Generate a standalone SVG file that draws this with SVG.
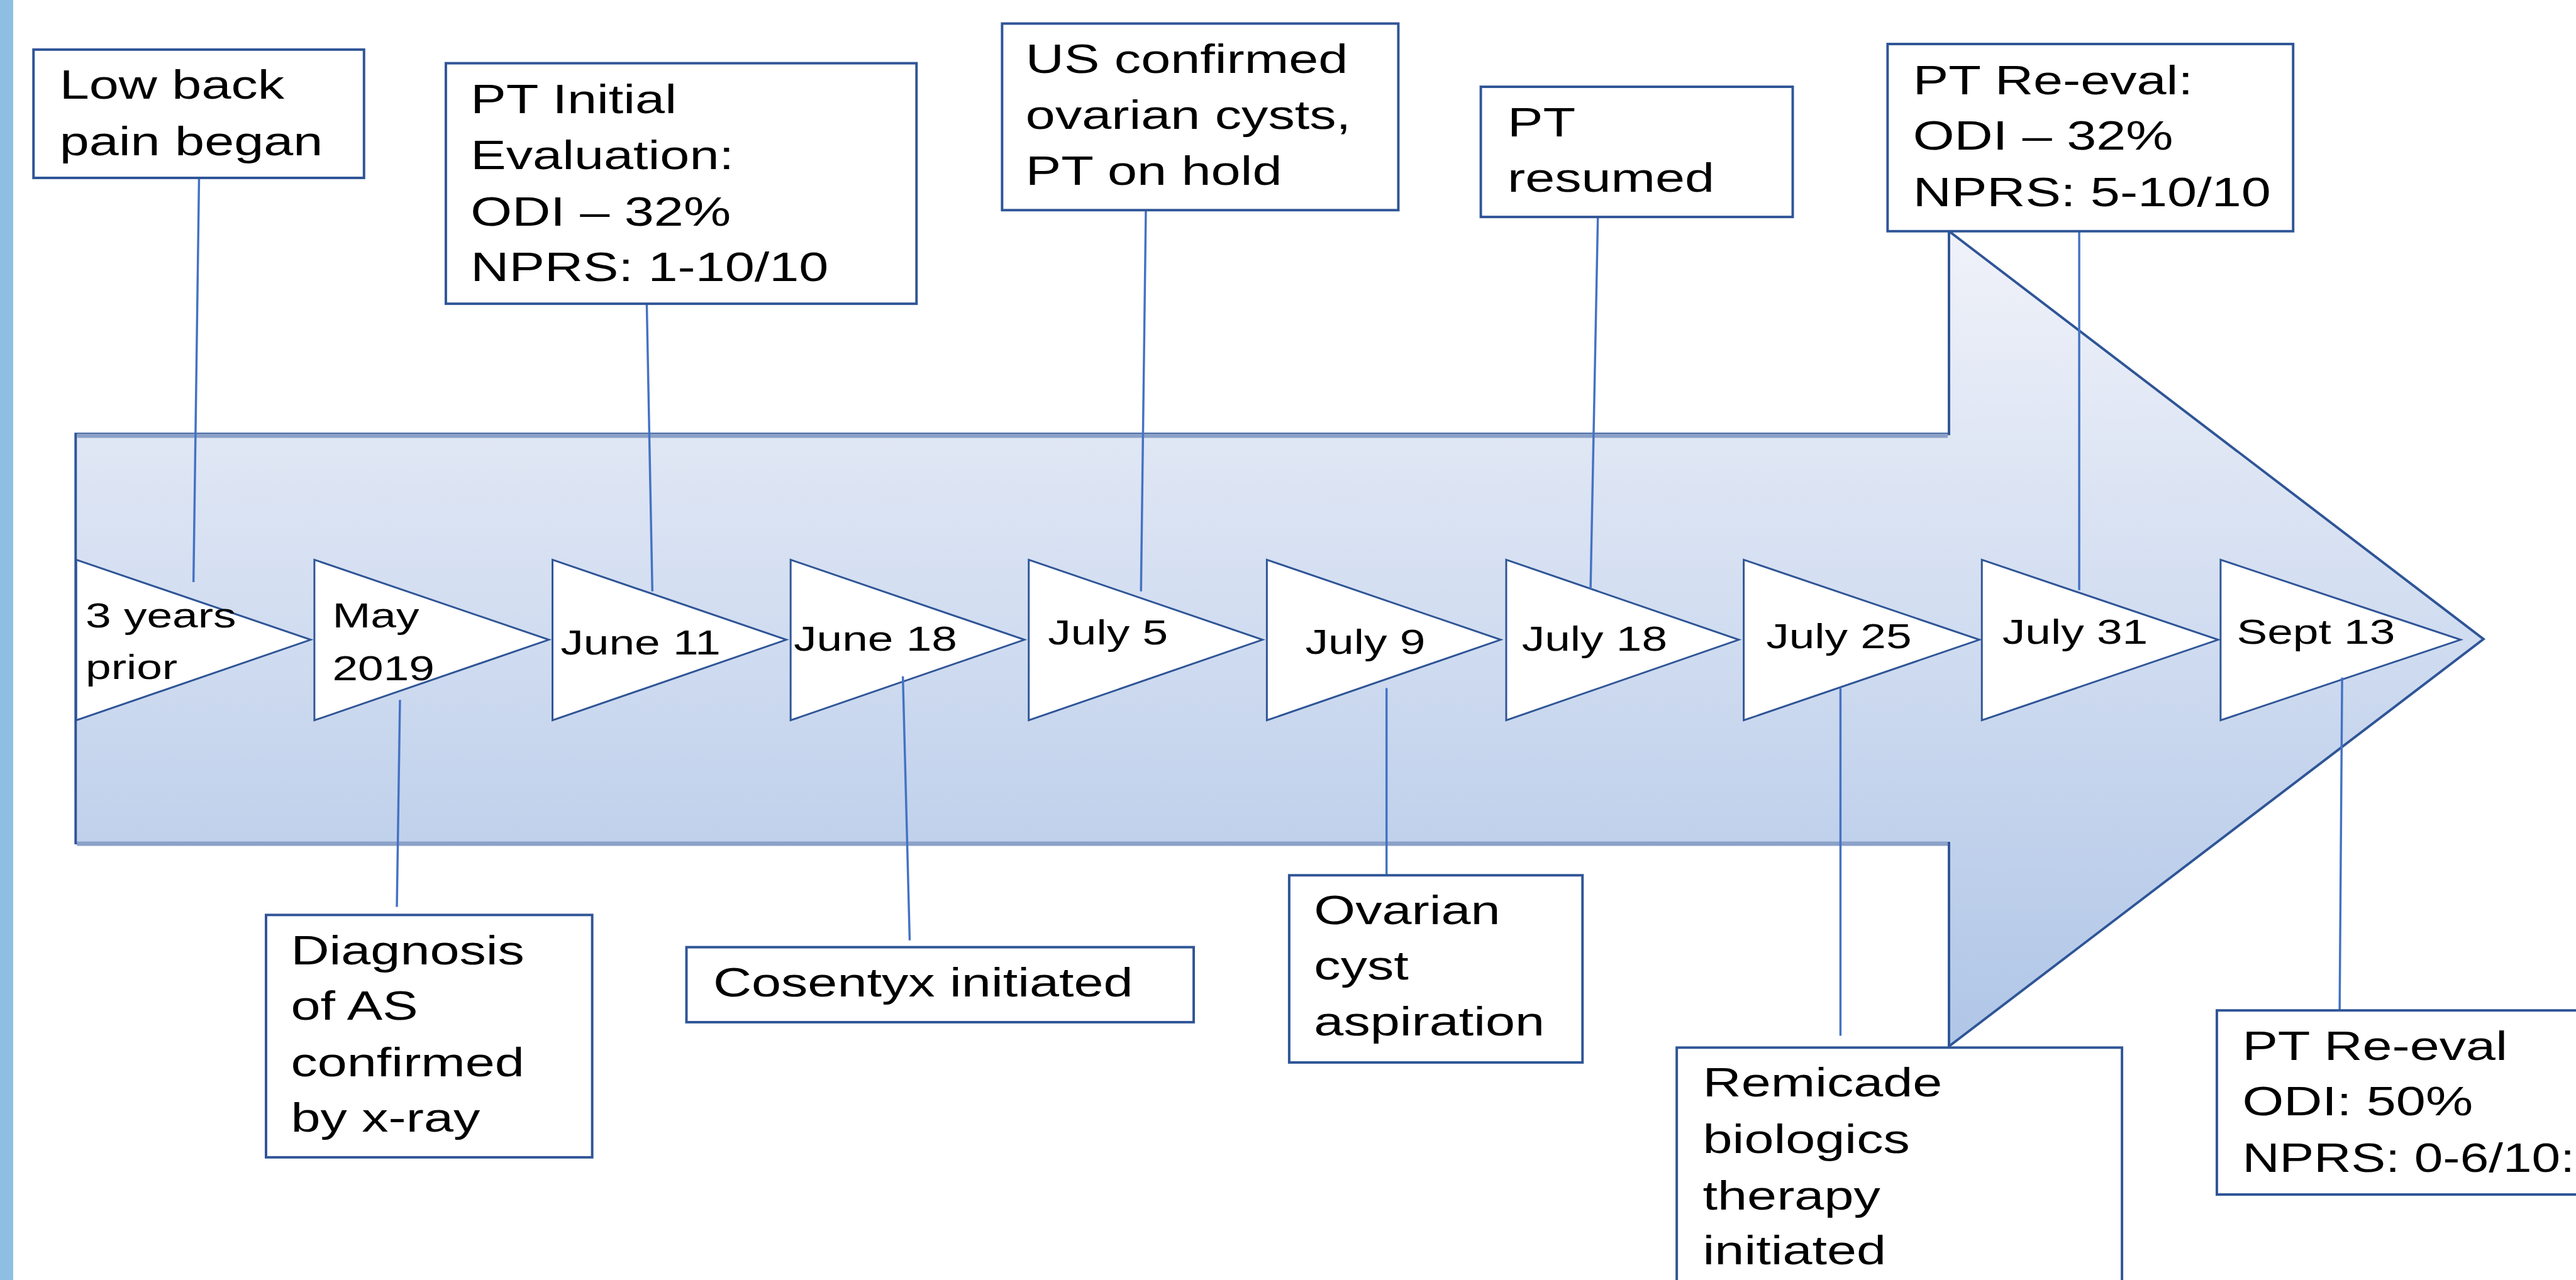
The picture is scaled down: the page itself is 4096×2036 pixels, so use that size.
<svg xmlns="http://www.w3.org/2000/svg" width="4096" height="2036" viewBox="0 0 4096 2036">
<defs>
<linearGradient id="arrowGrad" x1="0" y1="373" x2="0" y2="1688" gradientUnits="userSpaceOnUse">
<stop offset="0" stop-color="#F0F2F9"/>
<stop offset="1" stop-color="#B0C6E7"/>
</linearGradient>
<style>
.box{fill:#FFFFFF;stroke:#2F5597;stroke-width:4}
.tri{fill:#FFFFFF;stroke:#2F5597;stroke-width:3;stroke-linejoin:miter}
.conn{fill:none;stroke:#4472C4;stroke-width:3.5}
.t{font-family:"Liberation Sans",Arial,sans-serif;font-size:66px;fill:#000000}
.d{font-size:57px}
.edge{stroke:#8BA1C8;stroke-width:7;fill:none}
</style>
</defs>
<rect x="0" y="0" width="4096" height="2036" fill="#FFFFFF"/>
<rect id="sidebar" x="0" y="0" width="21" height="2036" fill="#8EBFE2"/>
<g transform="scale(0.986)">
<g id="timeline-arrow">
<polygon points="122,700 3143,700 3143,373 4005,1031 3143,1688 3143,1360 122,1360" fill="url(#arrowGrad)" stroke="#2F5597" stroke-width="4"/>
<line class="edge" x1="124" y1="703" x2="3141" y2="703"/>
<line class="edge" x1="124" y1="1361" x2="3141" y2="1361"/>
</g>
<g id="dates">
<g id="d1"><polygon class="tri" points="123,903 501,1032 123,1162"/><text class="t d" transform="translate(138,1012) scale(1.3,1)"><tspan x="0" y="0">3 years</tspan><tspan x="0" y="83">prior</tspan></text></g>
<g id="d2"><polygon class="tri" points="507,903 885,1032 507,1162"/><text class="t d" transform="translate(536,1012) scale(1.3,1)"><tspan x="0" y="0">May</tspan><tspan x="0" y="85">2019</tspan></text></g>
<g id="d3"><polygon class="tri" points="891,903 1268,1032 891,1162"/><text class="t d" transform="translate(904,1056) scale(1.3,1)">June 11</text></g>
<g id="d4"><polygon class="tri" points="1275,903 1652,1032 1275,1162"/><text class="t d" transform="translate(1280,1050) scale(1.3,1)">June 18</text></g>
<g id="d5"><polygon class="tri" points="1659,903 2036,1032 1659,1162"/><text class="t d" transform="translate(1690,1040) scale(1.3,1)">July 5</text></g>
<g id="d6"><polygon class="tri" points="2043,903 2420,1032 2043,1162"/><text class="t d" transform="translate(2105,1055) scale(1.3,1)">July 9</text></g>
<g id="d7"><polygon class="tri" points="2429,903 2804,1032 2429,1162"/><text class="t d" transform="translate(2454,1050) scale(1.3,1)">July 18</text></g>
<g id="d8"><polygon class="tri" points="2812,903 3192,1032 2812,1162"/><text class="t d" transform="translate(2848,1046) scale(1.3,1)">July 25</text></g>
<g id="d9"><polygon class="tri" points="3196,903 3577,1032 3196,1162"/><text class="t d" transform="translate(3229,1039) scale(1.3,1)">July 31</text></g>
<g id="d10"><polygon class="tri" points="3581,903 3968,1032 3581,1162"/><text class="t d" transform="translate(3607,1039) scale(1.3,1)">Sept 13</text></g>
</g>
<g id="connectors">
<line class="conn" x1="321" y1="287" x2="312" y2="939"/>
<line class="conn" x1="1043" y1="490" x2="1052" y2="954"/>
<line class="conn" x1="1848" y1="328" x2="1840" y2="954"/>
<line class="conn" x1="2577" y1="339" x2="2565" y2="950"/>
<line class="conn" x1="3353" y1="373" x2="3353" y2="952"/>
<line class="conn" x1="645" y1="1129" x2="640" y2="1463"/>
<line class="conn" x1="1456" y1="1091" x2="1467" y2="1517"/>
<line class="conn" x1="2236" y1="1110" x2="2236" y2="1412"/>
<line class="conn" x1="2968" y1="1110" x2="2968" y2="1671"/>
<line class="conn" x1="3777" y1="1093" x2="3773" y2="1629"/>
</g>
<g id="events">
<g id="e1"><rect class="box" x="54" y="80" width="533" height="207"/><text class="t" transform="translate(96,159) scale(1.3,1)"><tspan x="0" y="0">Low back</tspan><tspan x="0" y="92">pain began</tspan></text></g>
<g id="e2"><rect class="box" x="719" y="102" width="759" height="388"/><text class="t" transform="translate(759,183) scale(1.3,1)"><tspan x="0" y="0">PT Initial</tspan><tspan x="0" y="90">Evaluation:</tspan><tspan x="0" y="181">ODI – 32%</tspan><tspan x="0" y="270">NPRS: 1-10/10</tspan></text></g>
<g id="e3"><rect class="box" x="1616" y="38" width="639" height="301"/><text class="t" transform="translate(1654,118) scale(1.3,1)"><tspan x="0" y="0">US confirmed</tspan><tspan x="0" y="90">ovarian cysts,</tspan><tspan x="0" y="180">PT on hold</tspan></text></g>
<g id="e4"><rect class="box" x="2388" y="140" width="503" height="210"/><text class="t" transform="translate(2431,220) scale(1.3,1)"><tspan x="0" y="0">PT</tspan><tspan x="0" y="89">resumed</tspan></text></g>
<g id="e5"><rect class="box" x="3044" y="71" width="654" height="302"/><text class="t" transform="translate(3085,152) scale(1.3,1)"><tspan x="0" y="0">PT Re-eval:</tspan><tspan x="0" y="89">ODI – 32%</tspan><tspan x="0" y="181">NPRS: 5-10/10</tspan></text></g>
<g id="e6"><rect class="box" x="429" y="1476" width="526" height="391"/><text class="t" transform="translate(469,1556) scale(1.3,1)"><tspan x="0" y="0">Diagnosis</tspan><tspan x="0" y="89">of AS</tspan><tspan x="0" y="180">confirmed</tspan><tspan x="0" y="270">by x-ray</tspan></text></g>
<g id="e7"><rect class="box" x="1107" y="1528" width="818" height="121"/><text class="t" transform="translate(1150,1608) scale(1.3,1)">Cosentyx initiated</text></g>
<g id="e8"><rect class="box" x="2079" y="1412" width="473" height="302"/><text class="t" transform="translate(2119,1491) scale(1.3,1)"><tspan x="0" y="0">Ovarian</tspan><tspan x="0" y="89">cyst</tspan><tspan x="0" y="179">aspiration</tspan></text></g>
<g id="e9"><rect class="box" x="2704" y="1690" width="718" height="420"/><text class="t" transform="translate(2746,1769) scale(1.3,1)"><tspan x="0" y="0">Remicade</tspan><tspan x="0" y="91">biologics</tspan><tspan x="0" y="182">therapy</tspan><tspan x="0" y="271">initiated</tspan></text></g>
<g id="e10"><rect class="box" x="3575" y="1630" width="640" height="297"/><text class="t" transform="translate(3616,1710) scale(1.3,1)"><tspan x="0" y="0">PT Re-eval</tspan><tspan x="0" y="89">ODI: 50%</tspan></text><text class="t" transform="translate(3616,1890) scale(1.26,1)">NPRS: 0-6/10:</text></g>
</g>
</g>
</svg>
